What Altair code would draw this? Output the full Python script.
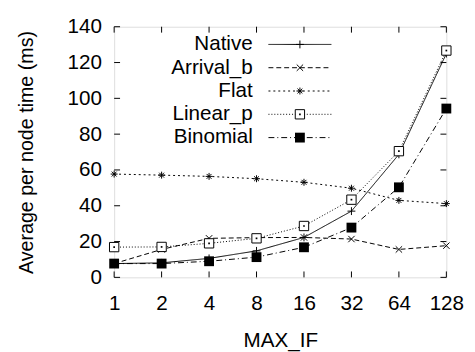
import altair as alt
import pandas as pd

max_if = [1, 2, 4, 8, 16, 32, 64, 128]
native = [7.7, 8.1, 10.6, 14.8, 22.3, 37.0, 68.7, 125.0]
arrival_b = [7.7, 15.6, 21.8, 22.2, 22.3, 21.4, 15.6, 17.7]
flat = [57.7, 57.1, 56.4, 55.1, 53.1, 49.8, 43.0, 41.2]
linear_p = [16.9, 17.0, 19.0, 21.8, 28.7, 43.4, 70.5, 126.7]
binomial = [7.7, 7.7, 9.0, 11.3, 16.8, 27.8, 50.3, 94.3]

series_names = ["Native", "Arrival_b", "Flat", "Linear_p", "Binomial"]
series_vals = [native, arrival_b, flat, linear_p, binomial]

x_ticks = [1, 2, 4, 8, 16, 32, 64, 128]
y_ticks = [0, 20, 40, 60, 80, 100, 120, 140]

W, H = 338, 255
FONT = "Liberation Sans"

def X():
    return alt.X("x:Q",
                 scale=alt.Scale(type="log", base=2, domain=[1, 128], nice=False),
                 axis=alt.Axis(values=x_ticks, format="d", title="MAX_IF",
                               ticks=False, domain=False, grid=False,
                               labelFontSize=21, titleFontSize=21,
                               labelPadding=16, titlePadding=16,
                               labelColor="black", titleColor="black",
                               titleFontWeight="normal", labelFlush=False))

def Y():
    return alt.Y("y:Q",
                 scale=alt.Scale(domain=[0, 140], nice=False),
                 axis=alt.Axis(values=y_ticks, title="Average per node time (ms)",
                               ticks=False, domain=False, grid=False,
                               labelFontSize=21, titleFontSize=20,
                               labelPadding=13, titlePadding=31,
                               labelColor="black", titleColor="black",
                               titleFontWeight="normal", labelFlush=False))

dashes = {
    "Native": [1, 0],
    "Arrival_b": [5, 3],
    "Flat": [2, 3],
    "Linear_p": [1, 2],
    "Binomial": [6, 3, 1, 3],
}

PLUS = "M-1,0L1,0M0,-1L0,1"
CROSS = "M-1,-1L1,1M-1,1L1,-1"
STAR = "M-1,0L1,0M0,-1L0,1M-0.7,-0.7L0.7,0.7M-0.7,0.7L0.7,-0.7"

def point_mark(name):
    if name == "Native":
        return dict(shape=PLUS, filled=False, color="black", size=64, strokeWidth=1, opacity=1)
    if name == "Arrival_b":
        return dict(shape=CROSS, filled=False, color="black", size=42, strokeWidth=1, opacity=1)
    if name == "Flat":
        return dict(shape=STAR, filled=False, color="black", size=50, strokeWidth=1, opacity=1)
    if name == "Linear_p":
        return dict(shape="square", filled=True, fill="white", stroke="black", size=90, strokeWidth=1, opacity=1, fillOpacity=1)
    return dict(shape="square", filled=True, color="black", size=100, opacity=1)

layers = []

# inward ticks
xt = pd.DataFrame({"x": x_ticks})
yt = pd.DataFrame({"y": y_ticks})
layers.append(alt.Chart(xt).mark_rule(color="black", strokeWidth=1).encode(x=X(), y=alt.value(H), y2=alt.value(H - 6)))
layers.append(alt.Chart(xt).mark_rule(color="black", strokeWidth=1).encode(x=X(), y=alt.value(0), y2=alt.value(6)))
layers.append(alt.Chart(yt).mark_rule(color="black", strokeWidth=1).encode(y=Y(), x=alt.value(0), x2=alt.value(6)))
layers.append(alt.Chart(yt).mark_rule(color="black", strokeWidth=1).encode(y=Y(), x=alt.value(W - 6), x2=alt.value(W)))

for i, (name, vals) in enumerate(zip(series_names, series_vals)):
    df = pd.DataFrame({"x": max_if, "y": vals})
    layers.append(alt.Chart(df).mark_line(color="black", strokeWidth=1, strokeDash=dashes[name]).encode(x=X(), y=Y()))
    layers.append(alt.Chart(df).mark_point(**point_mark(name)).encode(x=X(), y=Y()))
    if name == "Linear_p":
        layers.append(alt.Chart(df).mark_point(shape="square", filled=True, color="black", size=3, opacity=1).encode(x=X(), y=Y()))

    # legend entry
    ly = 18 + i * 23.7
    ldf = pd.DataFrame({"label": [name]})
    layers.append(alt.Chart(ldf).mark_text(align="right", baseline="middle", fontSize=21, font=FONT, color="black").encode(
        text="label:N", x=alt.value(141), y=alt.value(ly)))
    layers.append(alt.Chart(ldf).mark_rule(color="black", strokeWidth=1, strokeDash=dashes[name]).encode(
        x=alt.value(157), x2=alt.value(221), y=alt.value(ly)))
    layers.append(alt.Chart(ldf).mark_point(**point_mark(name)).encode(
        x=alt.value(189), y=alt.value(ly)))
    if name == "Linear_p":
        layers.append(alt.Chart(ldf).mark_point(shape="square", filled=True, color="black", size=3, opacity=1).encode(
            x=alt.value(189), y=alt.value(ly)))

chart = alt.layer(*layers).properties(
    width=W, height=H,
    autosize=alt.AutoSizeParams(type="none"),
    padding={"left": 108, "top": 16, "right": 21, "bottom": 80},
).configure_view(stroke="black", strokeWidth=1).configure(font=FONT, background="white")

chart.save("out.html", embed_options={"renderer": "svg", "actions": False})
